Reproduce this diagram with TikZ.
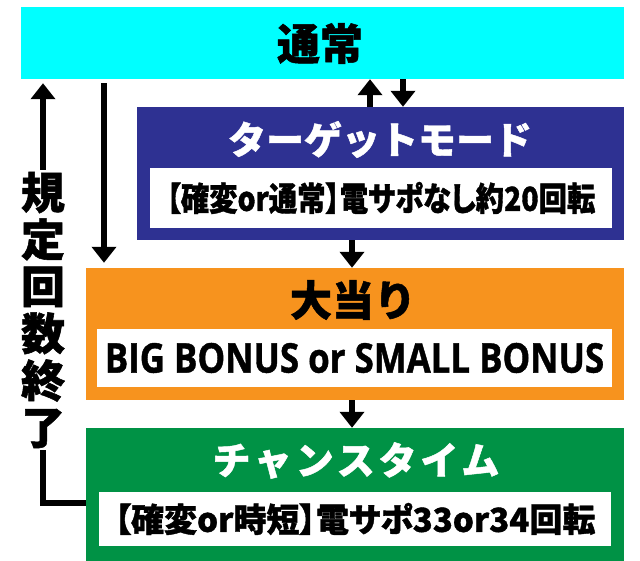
\documentclass[tikz,border=0pt]{standalone}
\usepackage{fontspec}
\usepackage{tikz}
\usetikzlibrary{arrows.meta}

\newfontfamily\jp{Noto Sans CJK JP}[FakeBold=1.2]
\newfontfamily\jpp{Noto Sans CJK JP}[RawFeature=+palt, FakeBold=1.2]
\newfontfamily\latn{Open Sans}[FakeStretch=0.85, FakeBold=1]

\definecolor{normalbg}{HTML}{00FFFF}
\definecolor{targetbg}{HTML}{2E3192}
\definecolor{hitbg}{HTML}{F7931E}
\definecolor{chancebg}{HTML}{009245}

\tikzset{
  panel/.style={inner sep=0pt},
  title/.style={inner sep=0pt, font=\jp\bfseries\fontsize{38}{38}\selectfont},
  infobox/.style={fill=white, inner sep=0pt, font=\jpp\bfseries\fontsize{33}{33}\selectfont},
  flow/.style={line width=6pt, -{Triangle[width=24pt,length=16pt]}},
  bar/.style={line width=6pt},
}

\begin{document}
\begin{tikzpicture}[x=1pt,y=-1pt]
        \useasboundingbox (0,0) rectangle (640,561);

        % Draw the boxes
        \node[panel, fill=normalbg, minimum width=603pt, minimum height=72pt] (normal) at (322.5,43) {};
        \node[panel, fill=targetbg, minimum width=487pt, minimum height=133pt] (target) at (380.5,173.5) {};
        \node[panel, fill=hitbg, minimum width=538pt, minimum height=132pt] (hit) at (355,334) {};
        \node[panel, fill=chancebg, minimum width=538pt, minimum height=133pt] (chance) at (355,494.5) {};

        % Titles
        \node[title, font=\jp\bfseries\fontsize{43}{43}\selectfont] (normaltitle) at (320,43.5) {通常};
        \node[title, text=white] (targettitle) at (380,139.5) {ターゲットモード};
        \node[title, font=\jp\bfseries\fontsize{42}{42}\selectfont] (hittitle) at (353,300) {大当り};
        \node[title, text=white] (chancetitle) at (356,460.5) {\addfontfeature{LetterSpace=10}チャンスタイム};

        % White info boxes
        \node[infobox, minimum width=462pt, minimum height=60pt] (targetinfo) at (381,198) {\scalebox{0.86}[1]{【確変or通常】電サポなし約20回転}};
        \node[infobox, minimum width=515pt, minimum height=58pt, font=\latn\bfseries\fontsize{41}{41}\selectfont] (hitinfo) at (354.5,358) {BIG BONUS or SMALL BONUS};
        \node[infobox, minimum width=512pt, minimum height=54pt] (chanceinfo) at (355,519) {【確変or時短】電サポ33or34回転};

        % Side label
        \node[inner sep=2pt, align=center, font=\jp\bfseries\fontsize{44}{47}\selectfont] (limit) at (43,310) {規\\定\\回\\数\\終\\了};
        \coordinate (retY) at (0,503);
        \coordinate (dropX) at (104,0);

        % Draw the flows
        \draw[flow] ([xshift=-10.5pt]target.north) -- ([xshift=-10.5pt]target.north |- normal.south);
        \draw[flow] ([xshift=22.5pt]target.north |- normal.south) -- ([xshift=22.5pt]target.north);
        \draw[flow] ([xshift=-28.5pt]target.south) -- ([xshift=-28.5pt]target.south |- hit.north);
        \draw[flow] ([xshift=-3pt]hit.south) -- ([xshift=-3pt]hit.south |- chance.north);
        \draw[flow, shorten <=4pt, shorten >=5pt] (normal.south -| dropX) -- (hit.north -| dropX);
        \draw[bar] (chance.west |- retY) -| (limit.south);
        \draw[flow, shorten >=4pt] (limit.north) -- (limit.north |- normal.south);
    \end{tikzpicture}
\end{document}
